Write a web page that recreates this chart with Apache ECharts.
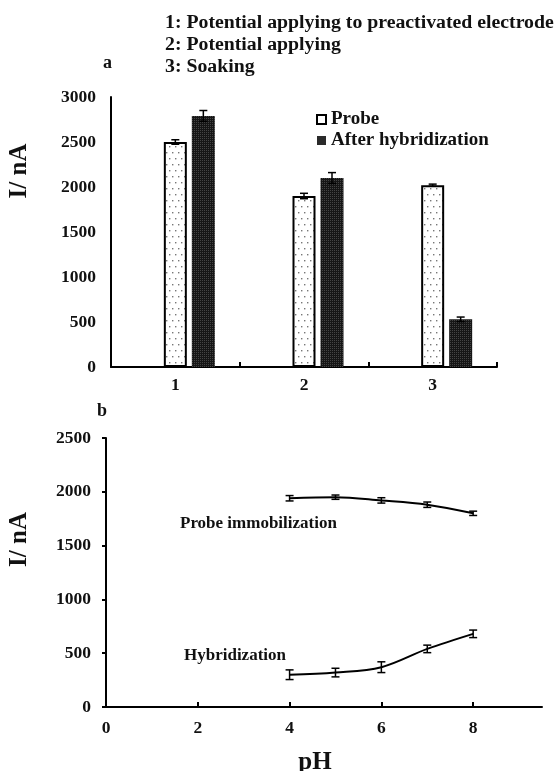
<!DOCTYPE html>
<html>
<head>
<meta charset="utf-8">
<script src="https://cdn.jsdelivr.net/npm/echarts@6/dist/echarts.min.js"></script>
<style>
  html, body { margin: 0; padding: 0; background: #fff; }
  #chart { width: 559px; height: 771px; }
</style>
</head>
<body>
<div id="chart"></div>
<script>
// Panel a: current for probe / after hybridization under three treatments
const treatments = ['1', '2', '3'];
const probeCurrent = [2500, 1900, 2020];
const probeError = [25, 30, 12];
const hybridCurrent = [2790, 2100, 530];
const hybridError = [60, 60, 25];
const treatmentNotes = [
  '1: Potential applying to preactivated electrode',
  '2: Potential applying',
  '3: Soaking'
];

// Panel b: effect of pH
const pHValues = [4, 5, 6, 7, 8];
const immobilizationCurrent = [1940, 1950, 1920, 1880, 1800];
const immobilizationError = [25, 20, 25, 25, 20];
const hybridizationCurrent = [300, 320, 370, 540, 680];
const hybridizationError = [45, 40, 50, 35, 35];
const pHTicks = [0, 2, 4, 6, 8];
const pHInnerTicks = [2, 4, 6, 8];

const FONT = '"Liberation Serif", "Times New Roman", serif';
const INK = '#111';

// fill textures for the bars
function dottedTexture() {
  const c = document.createElement('canvas');
  c.width = 6; c.height = 12;
  const g = c.getContext('2d');
  g.fillStyle = '#fff'; g.fillRect(0, 0, 6, 12);
  g.fillStyle = '#777';
  g.fillRect(1, 2, 1.4, 1.4);
  g.fillRect(4, 8, 1.4, 1.4);
  return c;
}
function darkTexture() {
  const c = document.createElement('canvas');
  c.width = 2; c.height = 2;
  const g = c.getContext('2d');
  g.fillStyle = '#161616'; g.fillRect(0, 0, 2, 2);
  g.fillStyle = '#444'; g.fillRect(0, 0, 1, 1);
  return c;
}

const BAR_W = 23;
const BAR_GAP = 5;

// vertical error bar with caps, drawn at the data point (shifted to its bar slot)
function errorBar(shiftPx) {
  return function (params, api) {
    const x = api.value(0), y = api.value(1), e = api.value(2);
    const hi = api.coord([x, y + e]);
    const lo = api.coord([x, y - e]);
    const cx = hi[0] + shiftPx;
    const hw = 4;
    const st = { stroke: '#000', lineWidth: 1.5 };
    return {
      type: 'group',
      children: [
        { type: 'line', shape: { x1: cx, y1: hi[1], x2: cx, y2: lo[1] }, style: st },
        { type: 'line', shape: { x1: cx - hw, y1: hi[1], x2: cx + hw, y2: hi[1] }, style: st },
        { type: 'line', shape: { x1: cx - hw, y1: lo[1], x2: cx + hw, y2: lo[1] }, style: st }
      ]
    };
  };
}

const tickStyle = { fontFamily: FONT, fontWeight: 'bold', fontSize: 17.5, color: INK };
const plain = v => String(v);
const axisLine = { show: true, lineStyle: { color: '#000', width: 2 } };

const chart = echarts.init(document.getElementById('chart'), null, { renderer: 'canvas' });

chart.setOption({
  animation: false,
  backgroundColor: '#fff',
  grid: [
    { left: 111, top: 97, width: 386, height: 270, outerBoundsMode: 'none', containLabel: false },
    { left: 106, top: 438, width: 436, height: 269, outerBoundsMode: 'none', containLabel: false }
  ],
  legend: {
    orient: 'vertical',
    left: 311,
    top: 105,
    itemWidth: 9,
    itemHeight: 9,
    itemGap: 2,
    textStyle: { fontFamily: FONT, fontWeight: 'bold', fontSize: 19, color: INK },
    data: [
      { name: 'Probe', icon: 'rect', itemStyle: { color: '#fff', borderColor: '#000', borderWidth: 2 } },
      { name: 'After hybridization', icon: 'rect', itemStyle: { color: '#2a2a2a', borderWidth: 0 } }
    ]
  },
  xAxis: [
    {
      gridIndex: 0,
      type: 'category',
      data: treatments,
      boundaryGap: true,
      axisLine: axisLine,
      axisTick: { show: true, inside: true, length: 5, lineStyle: { color: '#000', width: 2 } },
      axisLabel: Object.assign({ margin: 9 }, tickStyle),
      splitLine: { show: false }
    },
    {
      gridIndex: 1,
      type: 'value',
      min: 0,
      max: 9.5,
      name: 'pH',
      nameLocation: 'middle',
      nameGap: 43,
      nameTextStyle: { fontFamily: FONT, fontWeight: 'bold', fontSize: 25, color: INK, padding: [0, 18, 0, 0] },
      axisLine: axisLine,
      axisTick: { show: true, inside: true, length: 5, customValues: pHInnerTicks, lineStyle: { color: '#000', width: 2 } },
      axisLabel: Object.assign({ margin: 12, customValues: pHTicks, formatter: plain }, tickStyle),
      splitLine: { show: false }
    }
  ],
  yAxis: [
    {
      gridIndex: 0,
      type: 'value',
      min: 0,
      max: 3000,
      interval: 500,
      name: 'I/ nA',
      nameLocation: 'middle',
      nameGap: 79,
      nameTextStyle: { fontFamily: FONT, fontWeight: 'bold', fontSize: 25, color: INK, padding: [0, 0, 0, 122] },
      axisLine: axisLine,
      axisTick: { show: false },
      axisLabel: Object.assign({ margin: 15, formatter: plain }, tickStyle),
      splitLine: { show: false }
    },
    {
      gridIndex: 1,
      type: 'value',
      min: 0,
      max: 2500,
      interval: 500,
      name: 'I/ nA',
      nameLocation: 'middle',
      nameGap: 74,
      nameTextStyle: { fontFamily: FONT, fontWeight: 'bold', fontSize: 25, color: INK, padding: [0, 0, 0, 66] },
      axisLine: axisLine,
      axisTick: { show: true, length: 4, lineStyle: { color: '#000', width: 2 } },
      axisLabel: Object.assign({ margin: 15, formatter: plain }, tickStyle),
      splitLine: { show: false }
    }
  ],
  graphic: [
    {
      type: 'text', left: 165, top: 12,
      style: { text: treatmentNotes.join('\n'), lineHeight: 22, font: 'bold 19.8px ' + FONT, fill: INK }
    },
    { type: 'text', left: 103, top: 54, style: { text: 'a', font: 'bold 18px ' + FONT, fill: INK } },
    { type: 'text', left: 97, top: 402, style: { text: 'b', font: 'bold 18px ' + FONT, fill: INK } },
    { type: 'text', left: 180, top: 515, style: { text: 'Probe immobilization', font: 'bold 17px ' + FONT, fill: INK } },
    { type: 'text', left: 184, top: 647, style: { text: 'Hybridization', font: 'bold 17px ' + FONT, fill: INK } }
  ],
  series: [
    // empty leading slot so the probe bar sits on the category centre
    {
      name: 'spacer', type: 'bar', xAxisIndex: 0, yAxisIndex: 0,
      data: treatments.map(() => '-'), barWidth: BAR_W, barGap: (BAR_GAP / BAR_W * 100) + '%',
      silent: true
    },
    {
      name: 'Probe', type: 'bar', xAxisIndex: 0, yAxisIndex: 0,
      data: probeCurrent, barWidth: BAR_W, barGap: (BAR_GAP / BAR_W * 100) + '%',
      itemStyle: { color: { image: dottedTexture(), repeat: 'repeat' }, borderColor: '#000', borderWidth: 2 }
    },
    {
      name: 'After hybridization', type: 'bar', xAxisIndex: 0, yAxisIndex: 0,
      data: hybridCurrent, barWidth: BAR_W, barGap: (BAR_GAP / BAR_W * 100) + '%',
      itemStyle: { color: { image: darkTexture(), repeat: 'repeat' }, borderWidth: 0 }
    },
    {
      name: 'Probe error', type: 'custom', xAxisIndex: 0, yAxisIndex: 0, z: 5,
      renderItem: errorBar(0),
      encode: { x: 0, y: 1 },
      data: treatments.map((t, i) => [i, probeCurrent[i], probeError[i]])
    },
    {
      name: 'After hybridization error', type: 'custom', xAxisIndex: 0, yAxisIndex: 0, z: 5,
      renderItem: errorBar(BAR_W + BAR_GAP),
      encode: { x: 0, y: 1 },
      data: treatments.map((t, i) => [i, hybridCurrent[i], hybridError[i]])
    },
    {
      name: 'Probe immobilization', type: 'line', xAxisIndex: 1, yAxisIndex: 1,
      smooth: 0.35, showSymbol: false,
      lineStyle: { color: '#000', width: 2 },
      data: pHValues.map((x, i) => [x, immobilizationCurrent[i]])
    },
    {
      name: 'Hybridization', type: 'line', xAxisIndex: 1, yAxisIndex: 1,
      smooth: 0.35, showSymbol: false,
      lineStyle: { color: '#000', width: 2 },
      data: pHValues.map((x, i) => [x, hybridizationCurrent[i]])
    },
    {
      name: 'Probe immobilization error', type: 'custom', xAxisIndex: 1, yAxisIndex: 1, z: 5,
      renderItem: errorBar(0),
      encode: { x: 0, y: 1 },
      data: pHValues.map((x, i) => [x, immobilizationCurrent[i], immobilizationError[i]])
    },
    {
      name: 'Hybridization error', type: 'custom', xAxisIndex: 1, yAxisIndex: 1, z: 5,
      renderItem: errorBar(0),
      encode: { x: 0, y: 1 },
      data: pHValues.map((x, i) => [x, hybridizationCurrent[i], hybridizationError[i]])
    }
  ]
});
</script>
</body>
</html>
